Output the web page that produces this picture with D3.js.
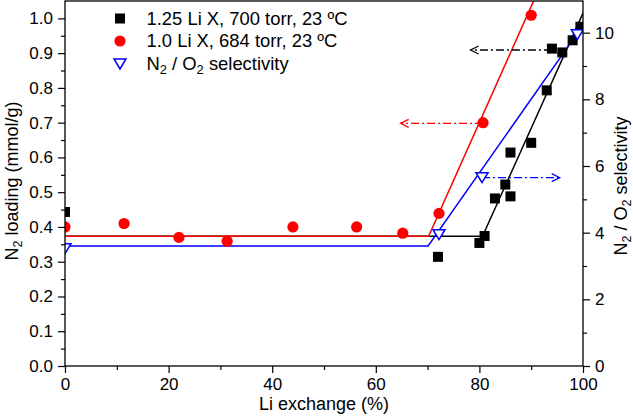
<!DOCTYPE html>
<html>
<head>
<meta charset="utf-8">
<script src="https://cdn.jsdelivr.net/npm/d3@7"></script>
<style>
  html, body { margin: 0; padding: 0; background: #fff; }
  svg { display: block; font-family: "Liberation Sans", Arial, sans-serif; }
</style>
</head>
<body>
<svg id="chart" width="633" height="417"></svg>
<script>
// ---- data ----
const blackX = [0, 72, 80, 81, 83, 85, 86, 86, 90, 93, 94, 96, 98, 99.5];
const blackY = [0.443, 0.314, 0.354, 0.374, 0.482, 0.522, 0.614, 0.488, 0.642, 0.793, 0.913, 0.902, 0.937, 0.976];
const redX = [0, 11.4, 22, 31.3, 44, 56.3, 65.2, 72.2, 80.7, 90];
const redY = [0.40, 0.41, 0.37, 0.359, 0.40, 0.40, 0.382, 0.439, 0.70, 1.009];
const selX = [0, 72.2, 80.5, 98.9];
const selY = [3.52, 3.94, 5.65, 9.94];

const blackFitX = [0, 80.6, 100];
const blackFitY = [0.373, 0.373, 1.015];
const redFitX = [0, 70.2, 91];
const redFitY = [0.373, 0.373, 1.068];
const selFitX = [0, 70.1, 99];
const selFitY = [3.6, 3.6, 10.0];

const xTicks = [0, 20, 40, 60, 80, 100];
const xMinor = [10, 30, 50, 70, 90];
const yTicks = [0, 0.1, 0.2, 0.3, 0.4, 0.5, 0.6, 0.7, 0.8, 0.9, 1.0];
const yMinor = [0.05, 0.15, 0.25, 0.35, 0.45, 0.55, 0.65, 0.75, 0.85, 0.95];
const y2Ticks = [0, 2, 4, 6, 8, 10];
const y2Minor = [1, 3, 5, 7, 9];

const legendLabels = ["1.25 Li X, 700 torr, 23 ºC", "1.0 Li X, 684 torr, 23 ºC"];

// arrows
const arrowBlack = {y: 0.909, x0: 94, x1: 78.3};
const arrowRed = {y: 0.698, x0: 80.7, x1: 64.8};
const arrowBlue = {y: 5.65, x0: 80.5, x1: 95.5};

// ---- layout ----
const L = 65, R = 583, T = 1, B = 366;
const svg = d3.select("#chart");
const x = d3.scaleLinear().domain([0, 100]).range([L, R]);
const y = d3.scaleLinear().domain([0, 1.05]).range([B, T]);
const y2 = d3.scaleLinear().domain([0, 10.95]).range([B, T]);

const FS = 17;

svg.append("defs").append("clipPath").attr("id", "plotclip")
  .append("rect").attr("x", L).attr("y", T).attr("width", R - L).attr("height", B - T);

const plot = svg.append("g").attr("clip-path", "url(#plotclip)");

const zip = (a, b) => a.map((v, i) => [v, b[i]]);
const lineL = d3.line().x(d => x(d[0])).y(d => y(d[1]));
const lineR = d3.line().x(d => x(d[0])).y(d => y2(d[1]));

plot.append("path").attr("d", lineL(zip(blackFitX, blackFitY)))
  .attr("fill", "none").attr("stroke", "#000").attr("stroke-width", 1.5);
plot.append("path").attr("d", lineL(zip(redFitX, redFitY)))
  .attr("fill", "none").attr("stroke", "#ff0000").attr("stroke-width", 1.5);
plot.append("path").attr("d", lineR(zip(selFitX, selFitY)))
  .attr("fill", "none").attr("stroke", "#0000ff").attr("stroke-width", 1.5);

function arrow(a, ys, color) {
  const yy = ys(a.y);
  const xa = x(a.x0), xb = x(a.x1);
  plot.append("line").attr("x1", xa).attr("x2", xb).attr("y1", yy).attr("y2", yy)
    .attr("stroke", color).attr("stroke-width", 1.3).attr("stroke-dasharray", "8,3,2,3");
  const dir = xb < xa ? 1 : -1;
  plot.append("path")
    .attr("d", `M${xb + dir * 8},${yy - 4}L${xb},${yy}L${xb + dir * 8},${yy + 4}`)
    .attr("fill", "none").attr("stroke", color).attr("stroke-width", 1.3);
}
arrow(arrowBlack, y, "#000");
arrow(arrowRed, y, "#ff0000");
arrow(arrowBlue, y2, "#0000ff");

// markers
const sq = 10;
plot.selectAll(".sq").data(zip(blackX, blackY)).enter().append("rect")
  .attr("x", d => x(d[0]) - sq / 2).attr("y", d => y(d[1]) - sq / 2)
  .attr("width", sq).attr("height", sq).attr("fill", "#000");
plot.selectAll(".ci").data(zip(redX, redY)).enter().append("circle")
  .attr("cx", d => x(d[0])).attr("cy", d => y(d[1])).attr("r", 5.6).attr("fill", "#ff0000");
const tri = (cx, cy) => `M${cx - 6},${cy - 5}L${cx + 6},${cy - 5}L${cx},${cy + 5}Z`;
plot.selectAll(".tr").data(zip(selX, selY)).enter().append("path")
  .attr("d", d => tri(x(d[0]), y2(d[1])))
  .attr("fill", "#fff").attr("stroke", "#0000ff").attr("stroke-width", 1.5);

// axes
const axG = svg.append("g").attr("font-size", FS).attr("fill", "#000");
function styleAxis(g) {
  g.select(".domain").remove();
  g.selectAll("line").attr("stroke", "#000").attr("stroke-width", 1.2);
  g.selectAll("text").attr("font-size", FS).attr("font-family", "Liberation Sans, Arial, sans-serif").attr("fill", "#000");
}
axG.append("g").attr("transform", `translate(0,${B})`)
  .call(d3.axisBottom(x).tickValues(xTicks).tickSize(7).tickPadding(5).tickFormat(d3.format("d")))
  .call(styleAxis);
axG.append("g").attr("transform", `translate(0,${B})`)
  .call(d3.axisBottom(x).tickValues(xMinor).tickSize(4).tickFormat(""))
  .call(styleAxis);
axG.append("g").attr("transform", `translate(${L},0)`)
  .call(d3.axisLeft(y).tickValues(yTicks).tickSize(7).tickPadding(5).tickFormat(d3.format(".1f")))
  .call(styleAxis);
axG.append("g").attr("transform", `translate(${L},0)`)
  .call(d3.axisLeft(y).tickValues(yMinor).tickSize(4).tickFormat(""))
  .call(styleAxis);
axG.append("g").attr("transform", `translate(${R},0)`)
  .call(d3.axisRight(y2).tickValues(y2Ticks).tickSize(7).tickPadding(5).tickFormat(d3.format("d")))
  .call(styleAxis);
axG.append("g").attr("transform", `translate(${R},0)`)
  .call(d3.axisRight(y2).tickValues(y2Minor).tickSize(4).tickFormat(""))
  .call(styleAxis);

// frame
svg.append("rect").attr("x", L).attr("y", T).attr("width", R - L).attr("height", B - T)
  .attr("fill", "none").attr("stroke", "#000").attr("stroke-width", 1.3);

// axis titles
svg.append("text").attr("x", (L + R) / 2).attr("y", 410).attr("text-anchor", "middle")
  .attr("font-size", 18).text("Li exchange (%)");

function n2Text(sel, parts) {
  parts.forEach(p => {
    if (p.sub) {
      sel.append("tspan").attr("font-size", "0.7em").attr("dy", 4).text(p.t);
    } else {
      sel.append("tspan").attr("dy", p.back ? -4 : 0).text(p.t);
    }
  });
}
const yt = svg.append("text").attr("transform", "translate(18,181) rotate(-90)")
  .attr("text-anchor", "middle").attr("font-size", 18);
n2Text(yt, [{t: "N"}, {t: "2", sub: true}, {t: " loading (mmol/g)", back: true}]);

const y2t = svg.append("text").attr("transform", "translate(627,186) rotate(-90)")
  .attr("text-anchor", "middle").attr("font-size", 18);
n2Text(y2t, [{t: "N"}, {t: "2", sub: true}, {t: " / O", back: true}, {t: "2", sub: true}, {t: " selectivity", back: true}]);

// legend
const lg = svg.append("g");
const lx = 120, tx = 146.5, rows = [18.5, 41, 64];
lg.append("rect").attr("x", lx - 5).attr("y", rows[0] - 5).attr("width", 10).attr("height", 10).attr("fill", "#000");
lg.append("circle").attr("cx", lx).attr("cy", rows[1]).attr("r", 5.6).attr("fill", "#ff0000");
lg.append("path").attr("d", tri(lx, rows[2])).attr("fill", "#fff").attr("stroke", "#0000ff").attr("stroke-width", 1.5);
legendLabels.forEach((t, i) => {
  lg.append("text").attr("x", tx).attr("y", rows[i] + 6).attr("font-size", 18.4).text(t);
});
const l3 = lg.append("text").attr("x", tx).attr("y", rows[2] + 6).attr("font-size", 18.4);
n2Text(l3, [{t: "N"}, {t: "2", sub: true}, {t: " / O", back: true}, {t: "2", sub: true}, {t: " selectivity", back: true}]);
</script>
</body>
</html>
